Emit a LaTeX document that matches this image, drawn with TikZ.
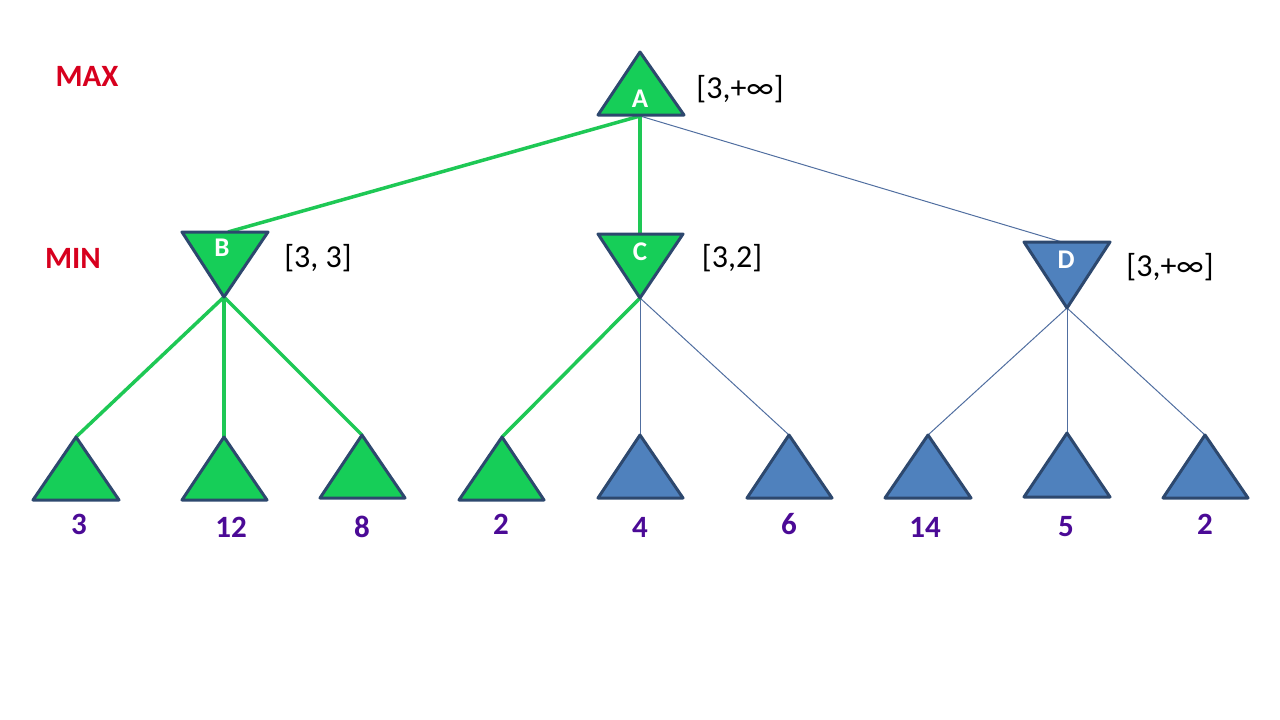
\documentclass[tikz,border=0pt]{standalone}
\usepackage{fontspec}
\setmainfont{Carlito}
\definecolor{tgreen}{RGB}{22,206,88}
\definecolor{egreen}{RGB}{30,200,85}
\definecolor{tblue}{RGB}{79,129,189}
\definecolor{tline}{RGB}{45,72,110}
\definecolor{thin}{RGB}{80,110,160}
\definecolor{lvl}{RGB}{215,0,30}
\definecolor{leafnum}{RGB}{75,10,150}
\tikzset{
  tri/.style={line width=3pt, draw=tline, line join=round},
  greentri/.style={tri, fill=tgreen},
  bluetri/.style={tri, fill=tblue},
  gedge/.style={draw=egreen, line width=3.5pt},
  bedge/.style={draw=thin, line width=1pt},
  lvltxt/.style={text=lvl, font=\bfseries\fontsize{31}{33}\selectfont},
  numtxt/.style={text=leafnum, font=\bfseries\fontsize{31}{33}\selectfont},
  rangetxt/.style={text=black, font=\fontsize{32}{34}\selectfont},
  letter/.style={text=white, font=\bfseries\fontsize{27}{29}\selectfont},
}
\begin{document}
\begin{tikzpicture}[x=1pt,y=-1pt]
\useasboundingbox (0,0) rectangle (1280,720);
% anchor coordinates
\coordinate (Ab) at (640,116);
\coordinate (Bt) at (228,232);
\coordinate (Ct) at (640,234);
\coordinate (Dt) at (1062,242);
\coordinate (Ba) at (224,297);
\coordinate (Ca) at (640,298);
\coordinate (Da) at (1067,308);
\coordinate (L1) at (76,437);
\coordinate (L2) at (224,437);
\coordinate (L3) at (362,435);
\coordinate (L4) at (502,437);
\coordinate (L5) at (640,435);
\coordinate (L6) at (789,435);
\coordinate (L7) at (928,435);
\coordinate (L8) at (1067,433);
\coordinate (L9) at (1205,435);
% edges
\draw[bedge] (Ab) -- (Dt);
\draw[bedge] (Ca) -- (L5);
\draw[bedge] (Ca) -- (L6);
\draw[bedge] (Da) -- (L7);
\draw[bedge] (Da) -- (L8);
\draw[bedge] (Da) -- (L9);
\draw[gedge] (Ab) -- (Bt);
\draw[gedge] (Ab) -- (Ct);
\draw[gedge] (Ba) -- (L1);
\draw[gedge] (Ba) -- (L2);
\draw[gedge] (Ba) -- (L3);
\draw[gedge] (Ca) -- (L4);
% internal triangles
\draw[greentri] (640,52) -- (684,115) -- (598,115) -- cycle;
\draw[greentri] (182,232) -- (268,232) -- (Ba) -- cycle;
\draw[greentri] (598,234) -- (683,234) -- (Ca) -- cycle;
\draw[bluetri] (1024,242) -- (1110,242) -- (Da) -- cycle;
% leaves
\draw[greentri] (L1) -- (119,500) -- (33,500) -- cycle;
\draw[greentri] (L2) -- (267,500) -- (182,500) -- cycle;
\draw[greentri] (L3) -- (405,498) -- (320,498) -- cycle;
\draw[greentri] (L4) -- (544,500) -- (459,500) -- cycle;
\draw[bluetri] (L5) -- (683,498) -- (598,498) -- cycle;
\draw[bluetri] (L6) -- (832,498) -- (747,498) -- cycle;
\draw[bluetri] (L7) -- (971,498) -- (885,498) -- cycle;
\draw[bluetri] (L8) -- (1110,497) -- (1024,497) -- cycle;
\draw[bluetri] (L9) -- (1248,498) -- (1163,498) -- cycle;
% letters
\node[letter] (nA) at (640,99) {A};
\node[letter] (nB) at (222,248) {B};
\node[letter] (nC) at (640,252) {C};
\node[letter] (nD) at (1066,260) {D};
% levels
\node[lvltxt] (max) at (87,76) {MAX};
\node[lvltxt] (min) at (73,258) {MIN};
% ranges
\node[rangetxt] (rA) at (740,89) {[3,+∞]};
\node[rangetxt] (rB) at (318,258) {[3, 3]};
\node[rangetxt] (rC) at (732,258) {[3,2]};
\node[rangetxt] (rD) at (1170,267) {[3,+∞]};
% leaf values
\node[numtxt] (v1) at (79,524) {3};
\node[numtxt] (v2) at (231,527) {12};
\node[numtxt] (v3) at (362,527) {8};
\node[numtxt] (v4) at (501,524) {2};
\node[numtxt] (v5) at (640,527) {4};
\node[numtxt] (v6) at (789,524) {6};
\node[numtxt] (v7) at (925,527) {14};
\node[numtxt] (v8) at (1066,527) {5};
\node[numtxt] (v9) at (1205,524) {2};
\end{tikzpicture}
\end{document}
